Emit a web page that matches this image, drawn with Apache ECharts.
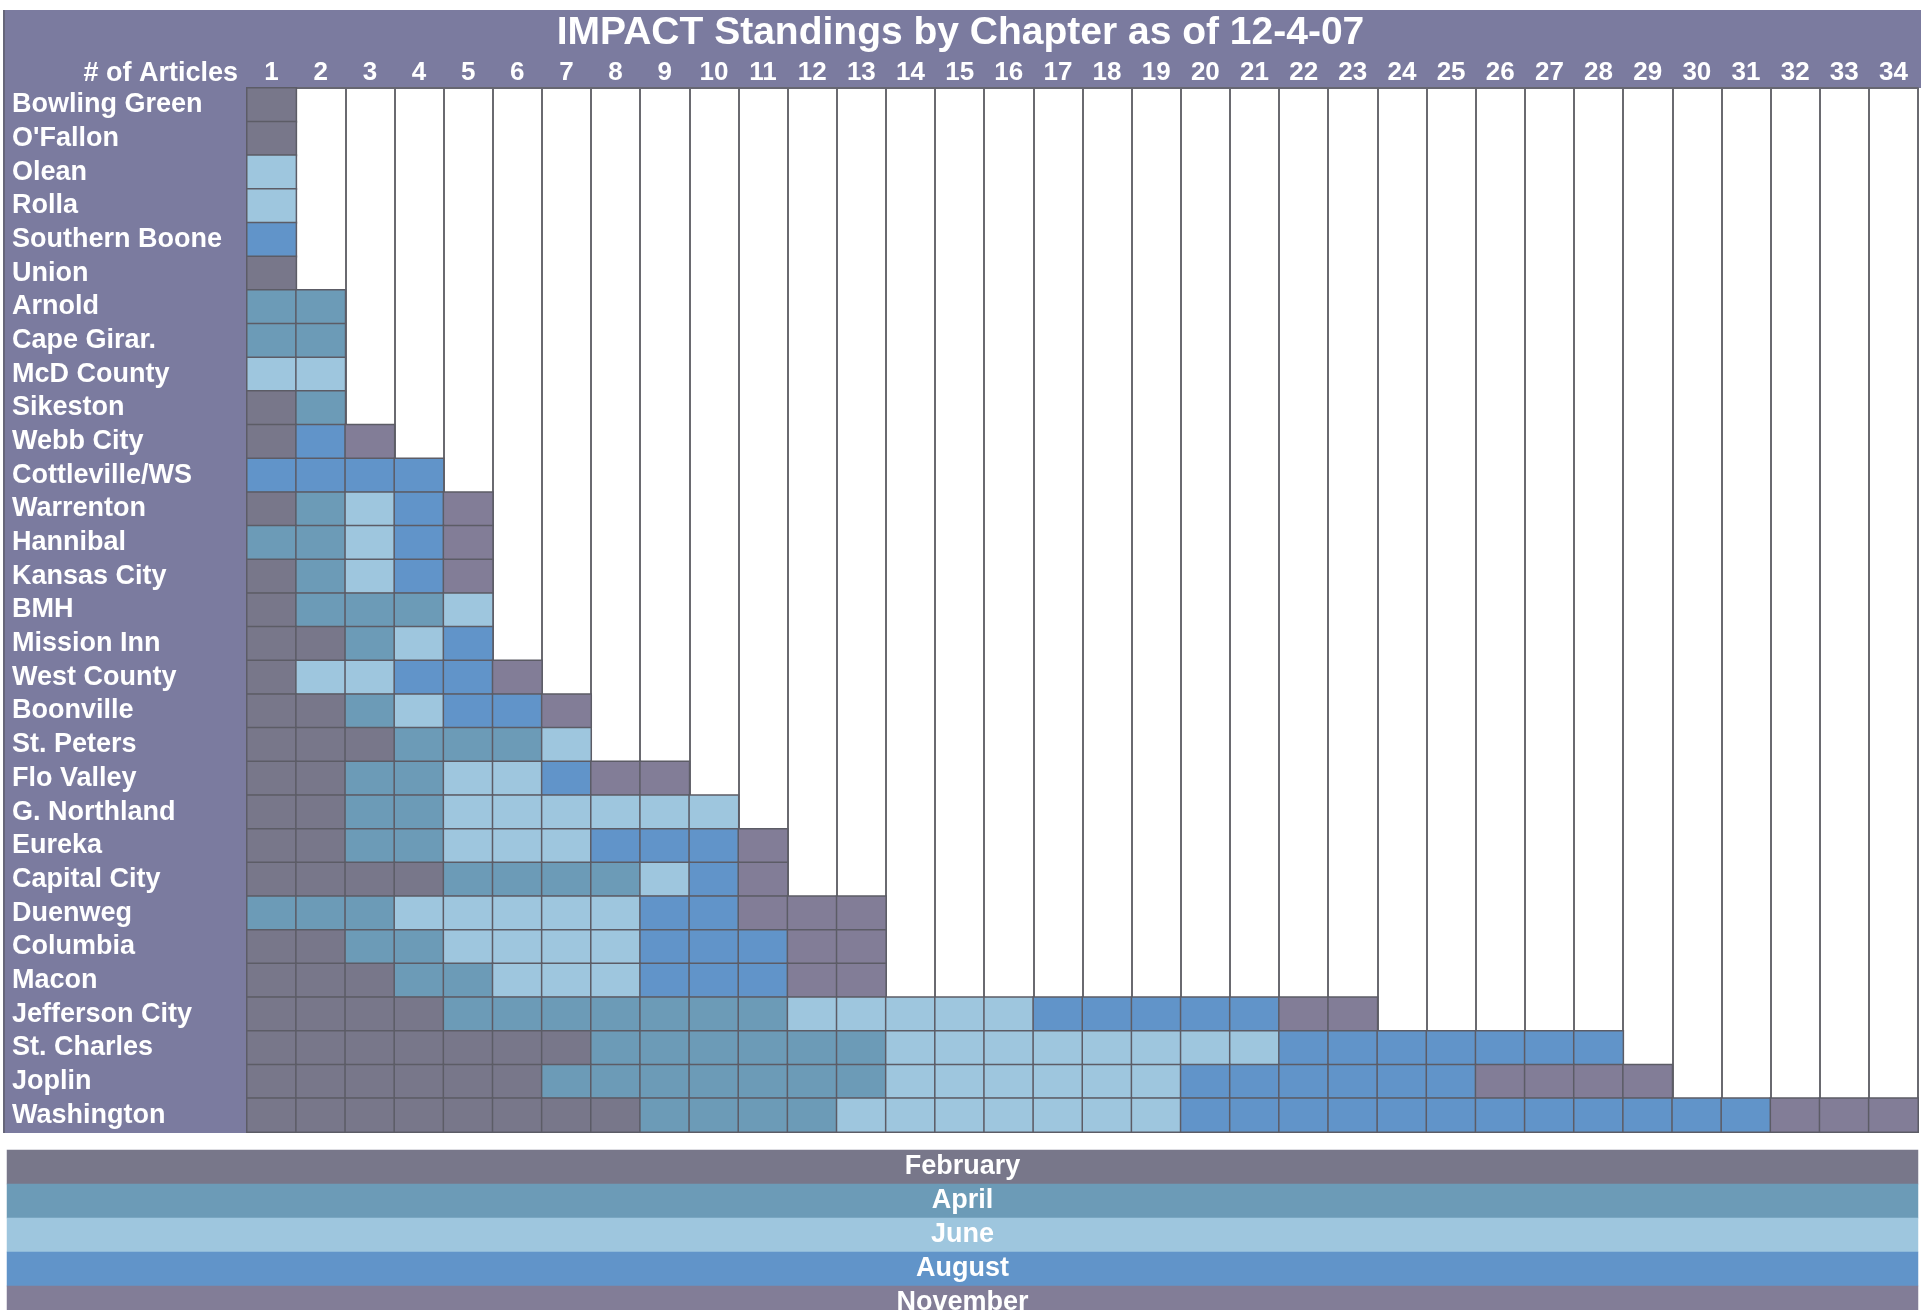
<!DOCTYPE html>
<html>
<head>
<meta charset="utf-8">
<script src="https://cdn.jsdelivr.net/npm/echarts@6/dist/echarts.min.js"></script>
<style>
html,body{margin:0;padding:0;background:#fff;}
#chart{width:1921px;height:1310px;}
</style>
</head>
<body>
<div id="chart"></div>
<script>
// ---- data ----
const titleText = 'IMPACT Standings by Chapter as of 12-4-07';
const axisTitle = '# of Articles';
const articleNumbers = ['1','2','3','4','5','6','7','8','9','10','11','12','13','14','15','16','17','18','19','20','21','22','23','24','25','26','27','28','29','30','31','32','33','34'];
const chapters = ['Bowling Green','O\'Fallon','Olean','Rolla','Southern Boone','Union','Arnold','Cape Girar.','McD County','Sikeston','Webb City','Cottleville/WS','Warrenton','Hannibal','Kansas City','BMH','Mission Inn','West County','Boonville','St. Peters','Flo Valley','G. Northland','Eureka','Capital City','Duenweg','Columbia','Macon','Jefferson City','St. Charles','Joplin','Washington'];
const months = ['February','April','June','August','November'];
// articles per chapter in each month (same order as chapters)
const febCounts = [1,1,0,0,0,1,0,0,0,1,1,0,1,0,1,1,2,1,2,3,2,2,2,4,0,2,3,4,7,6,8];
const aprCounts = [0,0,0,0,0,0,2,2,0,1,0,0,1,2,1,3,1,0,1,3,2,2,2,4,3,2,2,7,6,7,4];
const junCounts = [0,0,1,1,0,0,0,0,2,0,0,0,1,1,1,1,1,2,1,1,2,6,3,1,5,4,3,5,8,6,7];
const augCounts = [0,0,0,0,1,0,0,0,0,0,1,4,1,1,1,0,1,2,2,0,1,0,3,1,2,3,3,5,7,6,12];
const novCounts = [0,0,0,0,0,0,0,0,0,0,1,0,1,1,1,0,0,1,1,0,2,0,1,1,3,2,2,2,0,4,3];

// ---- styles ----
const monthColors = ['#78778a','#6c9bb7','#9ec6de','#6194c9','#827d97'];
const purple = '#7b7b9f';
const fontFam = '"Liberation Sans", Arial, sans-serif';

// build cells: each chapter's articles laid out in month order
const countsByMonth = [febCounts, aprCounts, junCounts, augCounts, novCounts];
const cells = [];
chapters.forEach((c, row) => {
  let col = 0;
  countsByMonth.forEach((arr, m) => {
    for (let k = 0; k < arr[row]; k++) { cells.push([col, row, m]); col++; }
  });
});
const legendCells = months.map((m, i) => [0, i, i]);

const chart = echarts.init(document.getElementById('chart'));
chart.setOption({
  animation: false,
  backgroundColor: '#ffffff',
  textStyle: { fontFamily: fontFam },
  title: {
    text: titleText, left: 'center', top: 9,
    textStyle: { color: '#ffffff', fontSize: 39, fontWeight: 'bold', fontFamily: fontFam }
  },
  graphic: [
    { type: 'rect', z: -10, shape: { x: 4, y: 10, width: 1917, height: 78 }, style: { fill: purple } },
    { type: 'rect', z: -10, shape: { x: 4, y: 10, width: 243, height: 1123 }, style: { fill: purple } },
    { type: 'rect', z: -9, shape: { x: 3, y: 10, width: 2, height: 1123 }, style: { fill: '#66667a' } }
  ],
  grid: [
    { left: 247, right: 3, top: 88, height: 1044, show: true, backgroundColor: '#ffffff', borderWidth: 0, outerBoundsMode: 'none' },
    { left: 7, right: 3, top: 1150, height: 170, show: false, outerBoundsMode: 'none' }
  ],
  xAxis: [
    {
      gridIndex: 0, type: 'category', position: 'top', data: articleNumbers,
      name: axisTitle, nameLocation: 'start', nameGap: 9,
      nameTextStyle: { color: '#ffffff', fontSize: 27, fontWeight: 'bold', verticalAlign: 'bottom', align: 'right', padding: [0, 0, 1, 0] },
      axisLine: { show: true, lineStyle: { color: '#666670', width: 2 } },
      axisTick: { show: false },
      axisLabel: { color: '#ffffff', fontSize: 26, fontWeight: 'bold', margin: 2, interval: 0 },
      splitLine: { show: true, interval: 0, lineStyle: { color: '#6a6a70', width: 2 } }
    },
    { gridIndex: 1, type: 'category', data: [''], show: false }
  ],
  yAxis: [
    {
      gridIndex: 0, type: 'category', data: chapters, inverse: true,
      axisLine: { show: false }, axisTick: { show: false },
      axisLabel: { color: '#ffffff', fontSize: 27, fontWeight: 'bold', align: 'left', margin: 235, interval: 0, padding: [3, 0, 0, 0] },
      splitLine: { show: false }
    },
    { gridIndex: 1, type: 'category', data: months, inverse: true, show: false }
  ],
  visualMap: {
    type: 'piecewise', show: false, dimension: 2, seriesIndex: [0, 1],
    pieces: months.map((m, i) => ({ value: i, color: monthColors[i] }))
  },
  series: [
    {
      type: 'heatmap', xAxisIndex: 0, yAxisIndex: 0, data: cells,
      itemStyle: { borderColor: '#5c5c66', borderWidth: 1.5 },
      emphasis: { disabled: true }
    },
    {
      type: 'heatmap', xAxisIndex: 1, yAxisIndex: 1, data: legendCells,
      label: {
        show: true, color: '#ffffff', fontSize: 27, fontWeight: 'bold', fontFamily: fontFam,
        formatter: p => months[p.value[1]]
      },
      itemStyle: { borderWidth: 0 },
      emphasis: { disabled: true }
    }
  ]
});
</script>
</body>
</html>
